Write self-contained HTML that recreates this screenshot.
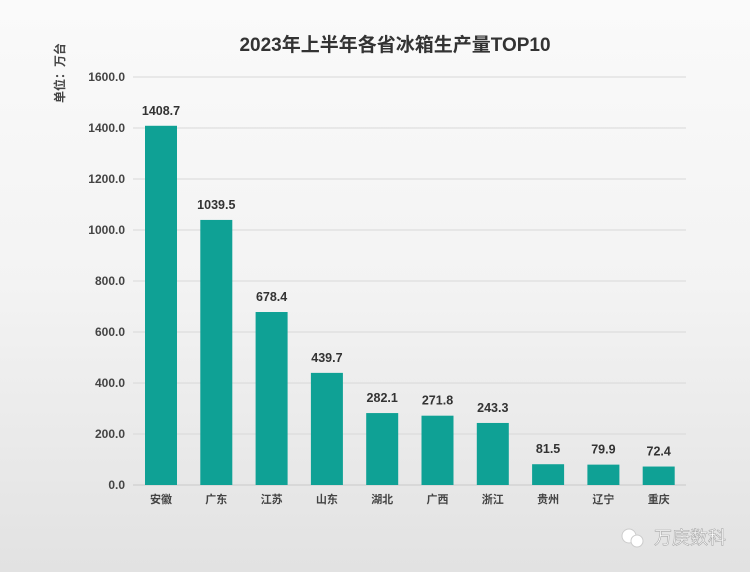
<!DOCTYPE html>
<html><head><meta charset="utf-8"><style>
body{margin:0;width:750px;height:572px;overflow:hidden;background:linear-gradient(#fafafa 0%,#f3f3f3 50%,#e2e2e2 100%);font-family:"Liberation Sans","Noto Sans CJK SC",sans-serif;}
</style></head><body>
<svg id="c" width="750" height="572" style="position:absolute;left:0;top:0">
<text x="395" y="51" text-anchor="middle" font-size="19" font-weight="bold" fill="#333">2023年上半年各省冰箱生产量TOP10</text>
<text transform="translate(64,73) rotate(-90)" text-anchor="middle" font-size="12" font-weight="bold" fill="#444">单位：万台</text>
<g id="grid"></g><g id="bars"></g>
<g>
<circle cx="629" cy="536" r="7" fill="#fff" stroke="#ccc"/><circle cx="637" cy="541" r="6" fill="#fff" stroke="#ccc"/>
<text x="654" y="544" font-size="18" fill="#fff" stroke="#aaa" stroke-width="0.6">万庚数科</text></g>
</svg>
<script>
const categories=["安徽","广东","江苏","山东","湖北","广西","浙江","贵州","辽宁","重庆"];
const values=[1408.7,1039.5,678.4,439.7,282.1,271.8,243.3,81.5,79.9,72.4];
const ticks=[0,200,400,600,800,1000,1200,1400,1600];
const NS="http://www.w3.org/2000/svg";
const y=v=>485-v*(408/1600);
const x=i=>161+i*55.3;
const g=document.getElementById('grid'),b=document.getElementById('bars');
function mk(t,a,p){const e=document.createElementNS(NS,t);for(const k in a)e.setAttribute(k,a[k]);p.appendChild(e);return e;}
ticks.forEach(t=>{
 const l=mk('line',{x1:133,x2:686,y1:y(t),y2:y(t),stroke:t===0?'#c8c8c8':'#d8d8d8','stroke-width':1},g);
 
 
 const tx=mk('text',{x:125,y:y(t)+4,'text-anchor':'end','font-size':12,'font-weight':'bold',fill:'#444'},g);
 tx.textContent=t.toFixed(1);
 
 
});
values.forEach((v,i)=>{
 const r=mk('rect',{x:x(i)-16,y:y(v),width:32,height:y(0)-y(v),fill:'#0fa195'},b);
 
 
 const vl=mk('text',{x:x(i),y:y(v)-11,'text-anchor':'middle','font-size':12.5,'font-weight':'bold',fill:'#333'},b);
 vl.textContent=v.toFixed(1);
 
 
 const cl=mk('text',{x:x(i),y:503,'text-anchor':'middle','font-size':11,'font-weight':'bold',fill:'#444'},b);
 cl.textContent=categories[i];
 
 
});
</script>
</body></html>
